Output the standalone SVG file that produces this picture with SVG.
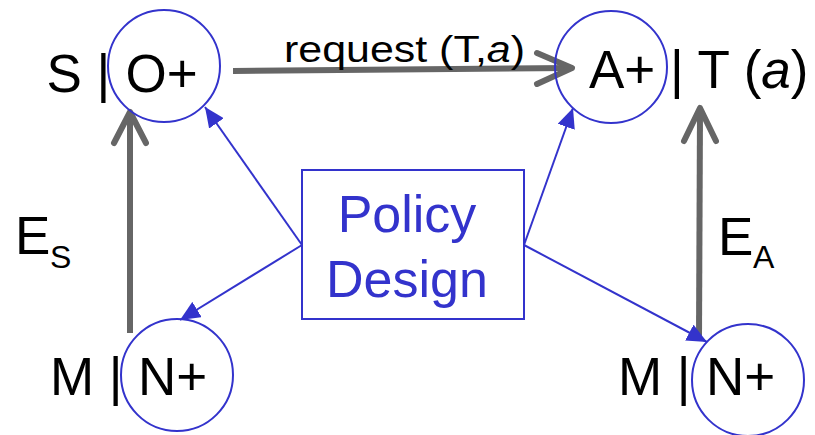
<svg xmlns="http://www.w3.org/2000/svg" width="815" height="435" viewBox="0 0 815 435">
  <style>
    .lbl { font-family: "Liberation Sans", Arial, sans-serif; font-size: 53px; fill: #000; }
    .sub { font-family: "Liberation Sans", Arial, sans-serif; font-size: 32px; fill: #000; }
    .state { fill: none; stroke: #3333cc; stroke-width: 2; }
    .policy-box { fill: #fff; stroke: #3333cc; stroke-width: 2; }
    .policy-text { font-family: "Liberation Sans", Arial, sans-serif; font-size: 52px; fill: #3333cc; text-anchor: middle; }
    .flow { fill: none; stroke: #666; stroke-width: 6; stroke-linecap: butt; }
    .head { fill: none; stroke: #666; stroke-width: 6; stroke-linecap: round; stroke-linejoin: round; }
    .link { fill: none; stroke: #3333cc; stroke-width: 2; }
  </style>
  <defs>
    <marker id="tri" viewBox="0 0 20 18" refX="20" refY="9" markerWidth="20" markerHeight="18" markerUnits="userSpaceOnUse" orient="auto">
      <path d="M0,0 L20,9 L0,18 Z" fill="#3333cc"/>
    </marker>
  </defs>

  <rect width="815" height="435" fill="#fff"/>

  <!-- connectors -->
  <g id="connectors">
    <!-- request (T,a) -->
    <line class="flow" x1="233" y1="71" x2="570" y2="68"/>
    <polyline class="head" points="537,53 572,68 537,84"/>
    <text x="284" y="62" font-family="Liberation Sans, Arial, sans-serif" font-size="37" textLength="241" lengthAdjust="spacingAndGlyphs">request (T,<tspan font-style="italic">a</tspan>)</text>

    <!-- E_S -->
    <line class="flow" x1="130" y1="333" x2="130" y2="114"/>
    <polyline class="head" points="114,143 130,112 146,143"/>
    <!-- E_A -->
    <line class="flow" x1="699" y1="338" x2="700" y2="110"/>
    <polyline class="head" points="684,141 700,108 716,141"/>

    <!-- policy links -->
    <line class="link" x1="302" y1="245" x2="205" y2="107" marker-end="url(#tri)"/>
    <line class="link" x1="302" y1="245" x2="180" y2="320" marker-end="url(#tri)"/>
    <line class="link" x1="524" y1="245" x2="573" y2="108" marker-end="url(#tri)"/>
    <line class="link" x1="524" y1="245" x2="707" y2="342" marker-end="url(#tri)"/>
  </g>

  <g id="label-es">
    <text class="lbl" x="15" y="254">E</text>
    <text class="sub" x="50" y="268">S</text>
  </g>
  <g id="label-ea">
    <text class="lbl" x="718" y="255">E</text>
    <text class="sub" x="753" y="268">A</text>
  </g>

  <g id="node-s">
    <circle class="state" cx="164" cy="66" r="56"/>
    <text class="lbl" x="46.5" y="92">S |</text>
    <text class="lbl" x="125.5" y="92">O+</text>
  </g>

  <g id="node-a">
    <circle class="state" cx="611" cy="67" r="56"/>
    <text class="lbl" x="589" y="88">A+ | T (<tspan font-style="italic">a</tspan>)</text>
  </g>

  <g id="node-m-left">
    <circle class="state" cx="177" cy="375" r="56"/>
    <text class="lbl" x="50" y="395">M |</text>
    <text class="lbl" x="138" y="395">N+</text>
  </g>

  <g id="node-m-right">
    <circle class="state" cx="748" cy="380" r="56"/>
    <text class="lbl" x="618" y="395">M |</text>
    <text class="lbl" x="706" y="395">N+</text>
  </g>

  <g id="policy-design">
    <rect class="policy-box" x="302" y="170" width="222" height="149"/>
    <text class="policy-text" x="407" y="232">Policy</text>
    <text class="policy-text" x="407" y="297">Design</text>
  </g>
</svg>
